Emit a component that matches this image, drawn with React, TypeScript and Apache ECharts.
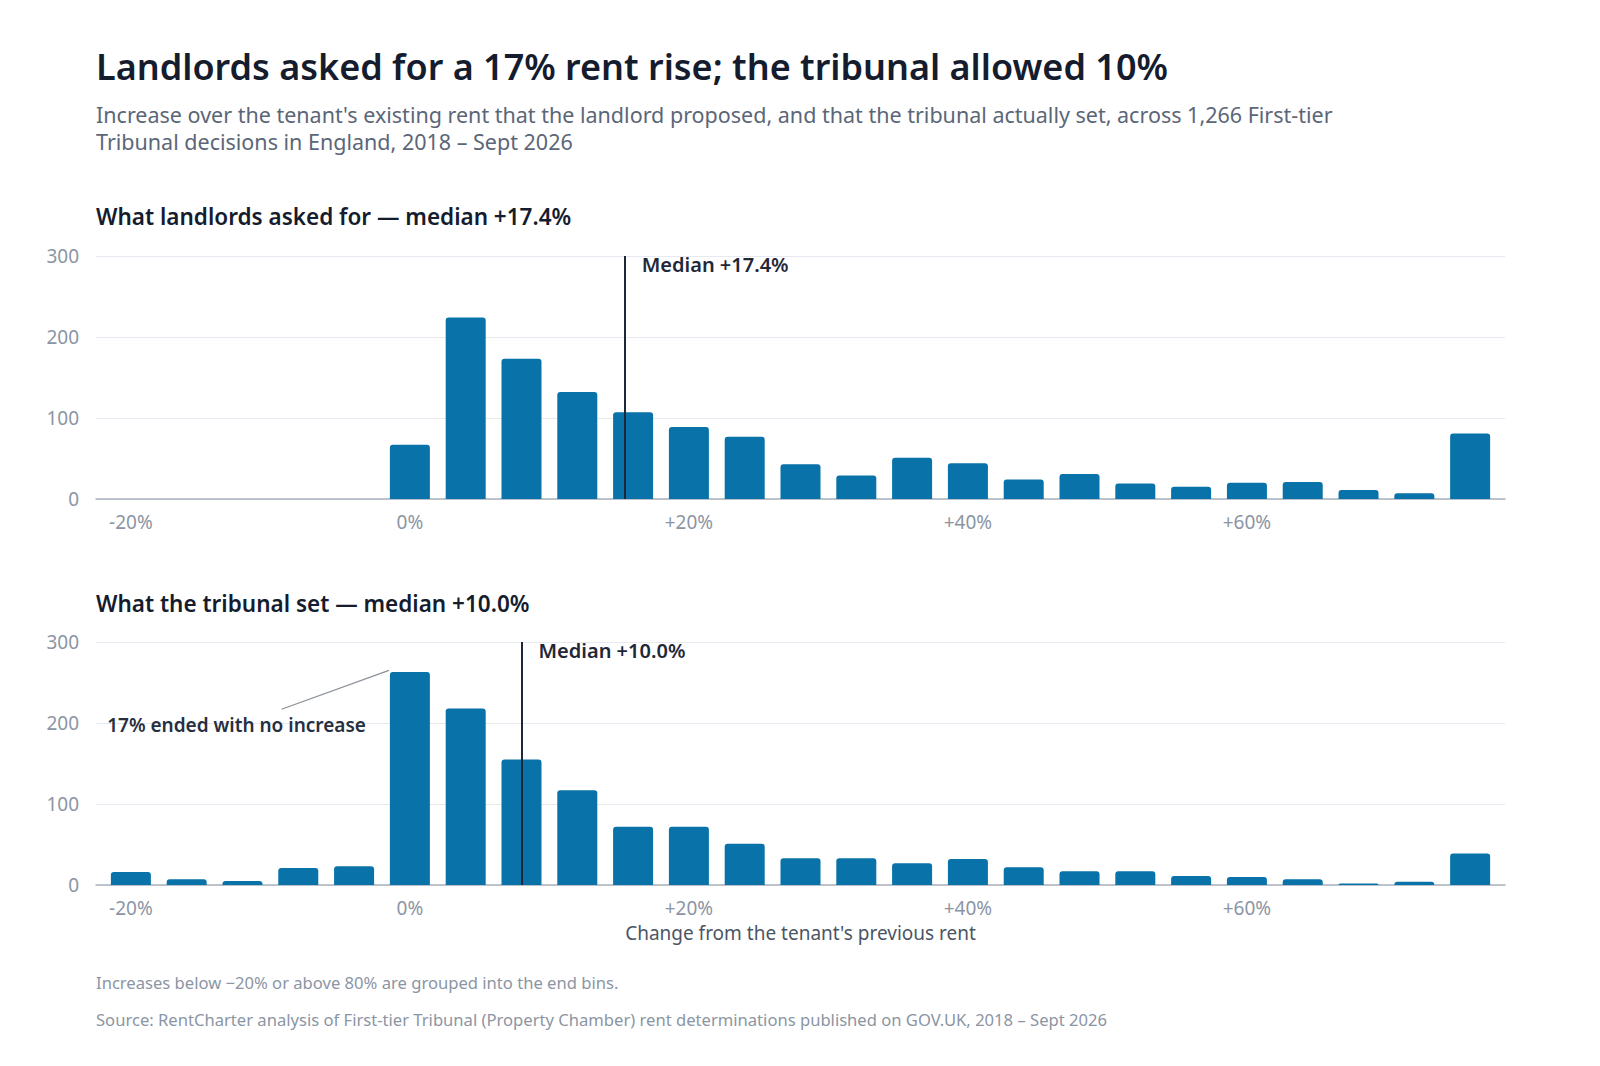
import { useEffect, useRef } from 'react';
import * as echarts from 'echarts';

// lower edge of each 4-point bin, in percent
const binStarts = [-20, -16, -12, -8, -4, 0, 4, 8, 12, 16, 20, 24, 28, 32, 36, 40, 44, 48, 52, 56, 60, 64, 68, 72, 76];
const askedCounts = [0, 0, 0, 0, 0, 67, 224, 173, 132, 107, 89, 77, 43, 29, 51, 44, 24, 31, 19, 15, 20, 21, 11, 7, 81];
const setCounts = [16, 7, 5, 21, 23, 263, 218, 155, 117, 72, 72, 51, 33, 33, 27, 32, 22, 17, 17, 11, 10, 7, 2, 4, 39];
const xTickValues = [-20, 0, 20, 40, 60];
const BIN_WIDTH = 4;
const MEDIAN_ASKED = 17.4;
const MEDIAN_SET = 10.0;

// annotation anchors (data coords, bottom panel)
const noteText = '17% ended with no increase';
const noteAnchor = [-21.7, 197];
const noteLine = [[-9.2, 217], [-1.5, 265]];

const FONT = '"Segoe UI", "Noto Sans", sans-serif';
const BAR = '#0872a9';
const INK = '#141c2e';

const pct = (v: number) => (v === 0 ? '0%' : v > 0 ? `+${v}%` : `${v}%`);

function xAxisFor(gridIndex: number, withName: boolean): any {
  return {
    type: 'value',
    gridIndex,
    min: -22.5,
    max: 78.5,
    axisLine: { lineStyle: { color: '#aab2bd', width: 1.5 } },
    axisTick: { show: false },
    splitLine: { show: false },
    axisLabel: {
      customValues: xTickValues,
      formatter: (v: number) => pct(v),
      color: '#8b95a3',
      fontSize: 19,
      fontFamily: FONT,
      margin: 13
    },
    name: withName ? "Change from the tenant's previous rent" : '',
    nameLocation: 'middle',
    nameGap: 38,
    nameTextStyle: { color: '#4b5566', fontSize: 19, fontFamily: FONT }
  };
}

function yAxisFor(gridIndex: number): any {
  return {
    type: 'value',
    gridIndex,
    min: 0,
    max: 300,
    interval: 100,
    axisLine: { show: false },
    axisTick: { show: false },
    splitLine: { lineStyle: { color: '#e6eaf0', width: 1.2 } },
    axisLabel: { color: '#8b95a3', fontSize: 19, fontFamily: FONT, margin: 17 }
  };
}

function histSeries(idx: number, counts: number[], median: number, extra: any = {}): any {
  const lineX = median - BIN_WIDTH / 2; // bars sit centred on their bin's lower edge
  return {
    type: 'bar',
    xAxisIndex: idx,
    yAxisIndex: idx,
    barWidth: 40,
    data: binStarts.map((b, i) => [b, counts[i]]),
    itemStyle: { color: BAR, borderRadius: [3, 3, 0, 0] },
    markLine: {
      silent: true,
      symbol: 'none',
      label: { show: false },
      lineStyle: { color: '#1e2738', width: 2, type: 'solid' },
      data: [[{ coord: [lineX, 0] }, { coord: [lineX, 300] }], ...(extra.lines || [])]
    },
    markPoint: {
      silent: true,
      symbol: 'circle',
      symbolSize: 0,
      data: [
        {
          coord: [lineX, 289],
          label: {
            show: true,
            position: 'right',
            distance: 17,
            formatter: `Median +${median.toFixed(1)}%`,
            color: '#1f2838',
            fontSize: 20,
            fontWeight: 600,
            fontFamily: FONT
          }
        },
        ...(extra.points || [])
      ]
    }
  };
}

export default function App() {
  const ref = useRef<HTMLDivElement>(null);

  useEffect(() => {
    if (!ref.current) return;
    const chart = echarts.init(ref.current, null, { renderer: 'svg' });

    const option: any = {
      animation: false,
      backgroundColor: '#ffffff',
      grid: [
        { left: 96, right: 95, top: 256, height: 243 },
        { left: 96, right: 95, top: 642, height: 243 }
      ],
      xAxis: [xAxisFor(0, false), xAxisFor(1, true)],
      yAxis: [yAxisFor(0), yAxisFor(1)],
      series: [
        histSeries(0, askedCounts, MEDIAN_ASKED),
        histSeries(1, setCounts, MEDIAN_SET, {
          lines: [
            [
              { coord: noteLine[0], lineStyle: { color: '#8a9099', width: 1.2 } },
              { coord: noteLine[1] }
            ]
          ],
          points: [
            {
              coord: noteAnchor,
              label: {
                show: true,
                position: 'right',
                distance: 0,
                formatter: noteText,
                color: '#262f40',
                fontSize: 19,
                fontWeight: 600,
                fontFamily: FONT
              }
            }
          ]
        })
      ],
      graphic: [
        {
          type: 'text',
          x: 96,
          y: 66,
          style: {
            text: 'Landlords asked for a 17% rent rise; the tribunal allowed 10%',
            font: `600 36px ${FONT}`,
            fill: INK,
            verticalAlign: 'middle'
          }
        },
        {
          type: 'text',
          x: 96,
          y: 128,
          style: {
            text:
              "Increase over the tenant's existing rent that the landlord proposed, and that the tribunal actually set, across 1,266 First-tier\nTribunal decisions in England, 2018 – Sept 2026",
            font: `21.5px ${FONT}`,
            lineHeight: 27,
            fill: '#5b6678',
            verticalAlign: 'middle'
          }
        },
        {
          type: 'text',
          x: 96,
          y: 216,
          style: {
            text: 'What landlords asked for — median +17.4%',
            font: `600 22.5px ${FONT}`,
            fill: INK,
            verticalAlign: 'middle'
          }
        },
        {
          type: 'text',
          x: 96,
          y: 603,
          style: {
            text: 'What the tribunal set — median +10.0%',
            font: `600 22.5px ${FONT}`,
            fill: INK,
            verticalAlign: 'middle'
          }
        },
        {
          type: 'text',
          x: 96,
          y: 982,
          style: {
            text: 'Increases below −20% or above 80% are grouped into the end bins.',
            font: `16.6px ${FONT}`,
            fill: '#8b95a3',
            verticalAlign: 'middle'
          }
        },
        {
          type: 'text',
          x: 96,
          y: 1019,
          style: {
            text: 'Source: RentCharter analysis of First-tier Tribunal (Property Chamber) rent determinations published on GOV.UK, 2018 – Sept 2026',
            font: `16.6px ${FONT}`,
            fill: '#8b95a3',
            verticalAlign: 'middle'
          }
        }
      ]
    };

    chart.setOption(option);
    return () => chart.dispose();
  }, []);

  return (
    <div
      ref={ref}
      style={{ position: 'fixed', left: 0, top: 0, width: 1600, height: 1066, background: '#fff' }}
    />
  );
}
